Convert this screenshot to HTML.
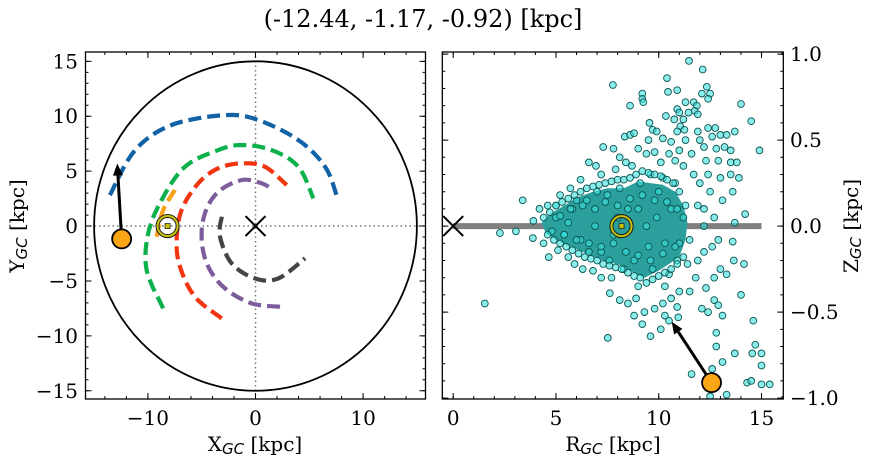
<!DOCTYPE html>
<html><head><meta charset="utf-8"><style>
html,body{margin:0;padding:0;background:#fff;}
svg{display:block;font-family:"DejaVu Serif","Liberation Serif",serif;}
</style></head><body>
<svg id="fig" width="874" height="464" viewBox="0 0 874 464">
<text x="423" y="27" text-anchor="middle" font-size="24">(-12.44, -1.17, -0.92) [kpc]</text>
<g id="left"></g>
<g id="right"></g>
<text x="255" y="451" text-anchor="middle" font-size="20">X<tspan font-family="DejaVu Sans, sans-serif" font-style="italic" font-size="15" dy="3">GC</tspan><tspan dy="-3"> [kpc]</tspan></text>
<text transform="translate(24,226) rotate(-90)" text-anchor="middle" font-size="20">Y<tspan font-family="DejaVu Sans, sans-serif" font-style="italic" font-size="15" dy="3">GC</tspan><tspan dy="-3"> [kpc]</tspan></text>
<text x="613" y="451" text-anchor="middle" font-size="20">R<tspan font-family="DejaVu Sans, sans-serif" font-style="italic" font-size="15" dy="3">GC</tspan><tspan dy="-3"> [kpc]</tspan></text>
<text transform="translate(858,226) rotate(-90)" text-anchor="middle" font-size="20">Z<tspan font-family="DejaVu Sans, sans-serif" font-style="italic" font-size="15" dy="3">GC</tspan><tspan dy="-3"> [kpc]</tspan></text>
</svg>
<script>
const NS="http://www.w3.org/2000/svg";
// ---------- data ----------
const orbitBlue=[[-13.53,2.82],[-11.2,6.9],[-7.8,9.2],[-2.84,10.1],[0.26,9.65],[3.98,7.83],[6.47,5.4],[7.6,2.6]];
const orbitGreen=[[-8.58,-7.5],[-10.12,-4.0],[-9.97,-0.67],[-8.73,2.37],[-6.56,5.4],[-3.46,6.92],[-1.28,7.38],[1.5,6.92],[3.98,5.4],[5.38,2.52]];
const orbitOrange=[[-7.49,3.28],[-8.58,1.46],[-9.19,-0.97]];
const orbitRed=[[-3.14,-8.41],[-5.63,-6.44],[-7.02,-3.7],[-7.33,-1.28],[-6.87,1.46],[-5.32,3.89],[-3.46,5.26],[-1.28,5.71],[0.88,5.4],[2.9,3.73]];
const orbitPurple=[[2.28,-7.35],[-0.35,-7.04],[-2.84,-5.67],[-4.39,-3.7],[-5.0,-1.28],[-4.7,1.16],[-3.46,3.12],[-1.28,4.19],[0.58,3.89],[1.66,3.28]];
const orbitGrey=[[-3.14,0.85],[-3.3,-0.97],[-2.21,-3.4],[-0.05,-4.77],[2.12,-4.77],[4.6,-2.94]];
const targetXY=[-12.44,-1.17];
const arrowXY=[-12.85,5.7];
const sunXY=[-8.17,0];
const targetRZ=[12.57,-0.91];
const arrowRZ=[10.63,-0.556];
const sunRZ=[8.19,0];
const coreRegion=[[4.3,0.02],[4.7,0.07],[5.4,0.12],[6.1,0.17],[6.8,0.2],[7.5,0.22],[8.3,0.22],[9.0,0.26],[9.6,0.25],[10.2,0.24],[10.8,0.2],[11.2,0.12],[11.4,0.02],[11.3,-0.08],[11.0,-0.18],[10.5,-0.22],[10,-0.26],[9.3,-0.3],[8.6,-0.26],[8,-0.22],[7.3,-0.2],[6.5,-0.16],[5.7,-0.12],[5,-0.08],[4.5,-0.04]];
const starsR=[11.47,12.14,10.4,7.77,12.34,10.45,10.9,9.2,9.2,9.25,12.1,12.5,12.4,11.3,11.7,11.85,11.75,8.6,14.0,10.9,11.0,11.45,11.9,10.35,10.75,11.2,14.5,9.55,11.05,11.25,9.7,9.9,10.9,11.9,12.4,12.75,13.3,13.7,8.35,8.6,8.8,9.5,10.2,10.6,11.3,12.0,12.6,13.0,12.2,12.8,13.2,13.5,14.9,6.6,6.95,7.3,7.8,8.1,8.4,9.0,9.8,10.5,11.0,11.6,12.3,12.9,13.5,13.8,12.4,13.0,13.5,13.6,13.1,12.5,12.0,13.9,12.2,12.7,13.7,14.2,3.38,2.27,3.05,3.88,1.54,4.65,5.6,3.9,4.2,5.0,7.52,7.62,9.6,8.9,10.5,10.9,10.95,11.6,12.6,13.3,12.5,12.8,12.8,13.1,13.7,14.55,15.0,14.7,14.6,14.3,14.5,15.0,15.4,15.0,14.0,14.15,13.65,13.6,12.1,12.4,12.7,12.9,13.1,12.3,12.7,13.0,13.3,12.2,12.6,12.9,11.8,11.9,11.5,11.0,10.6,10.2,9.8,9.3,8.8,8.5,8.1,7.7,7.2,6.8,6.3,5.9,10.3,11.4,12.2,11.9,11.7,11.2,10.8,10.1,9.4,8.7,7.9,7.2,6.2,5.7,5.2,4.6,4.4,5.1,9.2,10.1,10.3,9.0,
5,5.4,5.8,6.2,6.5,6.9,7.2,7.5,7.8,8.1,8.5,8.8,9.1,9.4,9.7,10,10.3,10.6,10.9,11.2,6.0,6.6,7.0,7.6,8.3,9.0,9.6,10.2,10.8,11.0,4.8,5.6,8.0,9.5,10.5,9.9,
4.4,4.7,5.0,5.3,5.6,5.9,6.2,6.5,6.8,7.1,7.4,7.7,8.0,8.3,8.6,8.9,9.2,9.5,9.8,10.1,10.4,10.7,11.0,11.3,
4.6,4.9,5.2,5.5,5.8,6.1,6.4,6.7,7.0,7.3,7.6,7.9,8.2,8.5,8.8,9.1,9.4,9.7,10.0,10.3,10.6,10.9,11.2,11.5,
5.2,5.7,6.3,6.9,7.4,8.0,8.6,9.2,9.8,10.4,10.9,5.4,6.0,6.6,7.2,7.8,8.4,9.0,9.6,10.2,10.8];
const starsZ=[0.96,0.91,0.86,0.82,0.81,0.78,0.79,0.77,0.74,0.72,0.77,0.77,0.74,0.72,0.72,0.70,0.67,0.70,0.71,0.68,0.66,0.66,0.65,0.64,0.62,0.62,0.61,0.6,0.58,0.56,0.56,0.55,0.55,0.55,0.57,0.57,0.53,0.55,0.52,0.53,0.54,0.5,0.51,0.49,0.5,0.5,0.52,0.53,0.46,0.45,0.46,0.44,0.44,0.37,0.35,0.46,0.45,0.4,0.37,0.45,0.43,0.42,0.44,0.42,0.38,0.38,0.37,0.37,0.3,0.28,0.3,0.2,0.15,0.2,0.25,0.28,0.1,0.05,0.02,0.07,0.15,-0.04,-0.03,-0.07,-0.45,-0.18,-0.18,0.03,0.1,0.12,-0.65,-0.39,-0.64,-0.42,-0.55,-0.47,-0.53,-0.86,-0.83,-0.98,-0.99,-0.70,-0.62,-0.79,-0.74,-0.74,-0.74,-0.69,-0.55,-0.91,-0.90,-0.92,-0.92,-0.81,-0.40,-0.22,-0.20,-0.09,-0.48,-0.5,-0.43,-0.46,-0.52,-0.36,-0.3,-0.25,-0.28,-0.15,-0.12,-0.08,-0.3,-0.2,-0.38,-0.38,-0.42,-0.45,-0.48,-0.5,-0.52,-0.45,-0.43,-0.3,-0.3,-0.26,-0.25,-0.22,-0.35,-0.22,0.0,0.12,0.3,0.35,0.38,0.37,0.42,0.35,0.33,0.3,0.27,0.22,0.18,0.12,-0.1,-0.14,-0.57,-0.6,-0.52,-0.35,
0.05,-0.05,0.1,-0.08,0.15,0.0,-0.15,0.18,-0.05,0.22,0.1,-0.2,0.25,0.0,-0.25,0.2,-0.1,0.1,-0.2,0.05,0.15,-0.15,0.2,-0.2,-0.25,0.1,0.3,0.28,0.25,-0.1,-0.03,0.02,0.05,-0.12,-0.28,0.05,
0.05,0.08,0.12,0.14,0.16,0.18,0.2,0.22,0.23,0.24,0.25,0.26,0.27,0.27,0.28,0.3,0.32,0.31,0.3,0.29,0.27,0.25,0.2,0.12,
-0.05,-0.08,-0.1,-0.12,-0.14,-0.16,-0.18,-0.19,-0.2,-0.22,-0.23,-0.24,-0.25,-0.27,-0.29,-0.3,-0.33,-0.31,-0.29,-0.27,-0.25,-0.22,-0.18,-0.08,
0.06,0.1,0.12,0.1,0.14,0.12,0.16,0.18,0.15,0.14,0.1,-0.05,-0.08,-0.1,-0.12,-0.1,-0.15,-0.17,-0.2,-0.16,-0.12];
const leftXTicks=[-10,0,10];
const leftYTicks=[-15,-10,-5,0,5,10,15];
const rightXTicks=[0,5,10,15];
const rightYTicks=[-1.0,-0.5,0.0,0.5,1.0];

// ---------- scales ----------
const L={x0:85.5,x1:425.5,y0:52,y1:399,xmin:-15.8,xmax:15.8,ymin:-15.75,ymax:15.85};
const R={x0:442.3,x1:783.3,y0:52,y1:399,xmin:-0.53,xmax:16.06,ymin:-1.005,ymax:1.012};
function sx(P,v){return P.x0+(v-P.xmin)/(P.xmax-P.xmin)*(P.x1-P.x0);}
function sy(P,v){return P.y1-(v-P.ymin)/(P.ymax-P.ymin)*(P.y1-P.y0);}
function mk(tag,attrs,parent){const e=document.createElementNS(NS,tag);for(const k in attrs)e.setAttribute(k,attrs[k]);parent.appendChild(e);return e;}
function fmt(v,d){const s=v.toFixed(d);return v<0?"\u2212"+s.slice(1):s;}

const gl=document.getElementById('left'), gr=document.getElementById('right');

const defs=mk('defs',{},document.getElementById('fig'));
const cl=mk('clipPath',{id:'clipL'},defs);mk('rect',{x:L.x0,y:L.y0,width:L.x1-L.x0,height:L.y1-L.y0},cl);
const cr=mk('clipPath',{id:'clipR'},defs);mk('rect',{x:R.x0,y:R.y0,width:R.x1-R.x0,height:R.y1-R.y0},cr);

// ---------- left panel ----------
const lc=mk('g',{'clip-path':'url(#clipL)'},gl);
let e;
e=mk('line',{x1:sx(L,0),x2:sx(L,0),y1:L.y0,y2:L.y1,stroke:'#777','stroke-width':1.5,'stroke-dasharray':'1.5,3'},lc);

e=mk('line',{x1:L.x0,x2:L.x1,y1:sy(L,0),y2:sy(L,0),stroke:'#777','stroke-width':1.5,'stroke-dasharray':'1.5,3'},lc);

e=mk('ellipse',{cx:sx(L,0),cy:sy(L,0),rx:sx(L,15)-sx(L,0),ry:sy(L,0)-sy(L,15),fill:'none',stroke:'#000','stroke-width':1.8},lc);


function orbit(pts,col,name){
  const d=pts.map((p,i)=>(i?'L':'M')+sx(L,p[0]).toFixed(1)+','+sy(L,p[1]).toFixed(1)).join(' ');
  const el=mk('path',{d:d,fill:'none',stroke:col,'stroke-width':4.2,'stroke-dasharray':'13,6'},lc);
  
  
}
function smooth(pts){const out=[];for(let i=0;i<pts.length-1;i++){const p0=pts[Math.max(0,i-1)],p1=pts[i],p2=pts[i+1],p3=pts[Math.min(pts.length-1,i+2)];for(let t=0;t<1;t+=0.1){const t2=t*t,t3=t2*t;out.push([0.5*((2*p1[0])+(-p0[0]+p2[0])*t+(2*p0[0]-5*p1[0]+4*p2[0]-p3[0])*t2+(-p0[0]+3*p1[0]-3*p2[0]+p3[0])*t3),0.5*((2*p1[1])+(-p0[1]+p2[1])*t+(2*p0[1]-5*p1[1]+4*p2[1]-p3[1])*t2+(-p0[1]+3*p1[1]-3*p2[1]+p3[1])*t3)]);}}out.push(pts[pts.length-1]);return out;}
orbit(smooth(orbitBlue),'#1262a6','orbit-blue');
orbit(smooth(orbitGreen),'#0db14b','orbit-green');
orbit(smooth(orbitOrange),'#f7a21b','orbit-orange');
orbit(smooth(orbitRed),'#f2350f','orbit-red');
orbit(smooth(orbitPurple),'#7d5c9c','orbit-purple');
orbit(smooth(orbitGrey),'#444','orbit-grey');

function xmark(P,p,g,name){const cx=sx(P,p[0]),cy=sy(P,p[1]),h=10;
  const el=mk('path',{d:`M${cx-h},${cy-h}L${cx+h},${cy+h}M${cx-h},${cy+h}L${cx+h},${cy-h}`,stroke:'#000','stroke-width':2,fill:'none'},g);
  }
function sun(P,p,g,name){const cx=sx(P,p[0]),cy=sy(P,p[1]);
  const s=mk('g',{},g);
  mk('circle',{cx:cx,cy:cy,r:11.5,fill:'none',stroke:'#222','stroke-width':1.2},s);
  mk('circle',{cx:cx,cy:cy,r:10,fill:'none',stroke:'#c9c200','stroke-width':2},s);
  mk('circle',{cx:cx,cy:cy,r:8.5,fill:'none',stroke:'#222','stroke-width':1},s);
  mk('rect',{x:cx-2.5,y:cy-2.5,width:5,height:5,fill:'#c9c200',stroke:'#222','stroke-width':0.8},s);}
function arrow(P,a,b,g,name){const x1=sx(P,a[0]),y1=sy(P,a[1]),x2=sx(P,b[0]),y2=sy(P,b[1]);
  const ang=Math.atan2(y2-y1,x2-x1),hl=12,hw=5;
  const bx=x2-hl*Math.cos(ang),by=y2-hl*Math.sin(ang);
  const s=mk('g',{},g);
  mk('line',{x1:x1,y1:y1,x2:bx,y2:by,stroke:'#000','stroke-width':3},s);
  mk('path',{d:`M${x2},${y2}L${bx-hw*Math.sin(ang)},${by+hw*Math.cos(ang)}L${bx+hw*Math.sin(ang)},${by-hw*Math.cos(ang)}Z`,fill:'#000'},s);}
function target(P,p,g,name){const el=mk('circle',{cx:sx(P,p[0]),cy:sy(P,p[1]),r:9.5,fill:'#fba414',stroke:'#000','stroke-width':1.8},g);
  }

xmark(L,[0,0],lc,'galactic-center-marker');
sun(L,sunXY,lc,'sun-marker');
arrow(L,targetXY,arrowXY,lc,'velocity-arrow-xy');
target(L,targetXY,lc,'target-star-xy');

// ---------- right panel ----------
const rc=mk('g',{'clip-path':'url(#clipR)'},gr);
e=mk('line',{x1:sx(R,0),x2:sx(R,15),y1:sy(R,0),y2:sy(R,0),stroke:'#808080','stroke-width':6},rc);

e=mk('polygon',{points:coreRegion.map(p=>sx(R,p[0]).toFixed(1)+','+sy(R,p[1]).toFixed(1)).join(' '),fill:'#2a9f9b',stroke:'none'},rc);

const sg=mk('g',{},rc);
for(let i=0;i<starsR.length;i++){
  const c=mk('circle',{cx:sx(R,starsR[i]).toFixed(1),cy:sy(R,starsZ[i]).toFixed(1),r:3.4,fill:'rgba(60,225,220,0.6)',stroke:'#0d5553','stroke-width':0.9},sg);
  
  
}
xmark(R,[0,0],rc,'galactic-center-marker-rz');
sun(R,sunRZ,rc,'sun-marker-rz');
arrow(R,targetRZ,arrowRZ,rc,'velocity-arrow-rz');
target(R,targetRZ,rc,'target-star-rz');

// ---------- axes / ticks ----------
function frame(P,g,name){const el=mk('rect',{x:P.x0,y:P.y0,width:P.x1-P.x0,height:P.y1-P.y0,fill:'none',stroke:'#000','stroke-width':1.3},g);
  }
function ticks(P,g,axis,step,len){
  const lo=axis==='x'?P.xmin:P.ymin,hi=axis==='x'?P.xmax:P.ymax;
  let d='';
  for(let v=Math.ceil(lo/step)*step;v<=hi+1e-9;v+=step){
    if(axis==='x'){const x=sx(P,v);d+=`M${x},${P.y1}v${-len}M${x},${P.y0}v${len}`;}
    else{const y=sy(P,v);d+=`M${P.x0},${y}h${len}M${P.x1},${y}h${-len}`;}
  }
  mk('path',{d:d,stroke:'#000','stroke-width':1,fill:'none'},g);
}
frame(L,gl,'xy-plot-frame');frame(R,gr,'rz-plot-frame');
ticks(L,gl,'x',2,3);ticks(L,gl,'x',10,6);ticks(L,gl,'y',1,3);ticks(L,gl,'y',5,6);
ticks(R,gr,'x',1,3);ticks(R,gr,'x',5,6);ticks(R,gr,'y',0.1,3);ticks(R,gr,'y',0.5,6);
leftXTicks.forEach(v=>{const t=mk('text',{x:sx(L,v),y:425,'text-anchor':'middle','font-size':20},gl);t.textContent=fmt(v,0);
  });
leftYTicks.forEach(v=>{const t=mk('text',{x:78,y:sy(L,v)+7,'text-anchor':'end','font-size':20},gl);t.textContent=fmt(v,0);
  });
rightXTicks.forEach(v=>{const t=mk('text',{x:sx(R,v),y:425,'text-anchor':'middle','font-size':20},gr);t.textContent=fmt(v,0);
  });
rightYTicks.forEach(v=>{const t=mk('text',{x:790,y:sy(R,v)+7,'text-anchor':'start','font-size':20},gr);t.textContent=fmt(v,1);
  });
</script>
</body></html>
